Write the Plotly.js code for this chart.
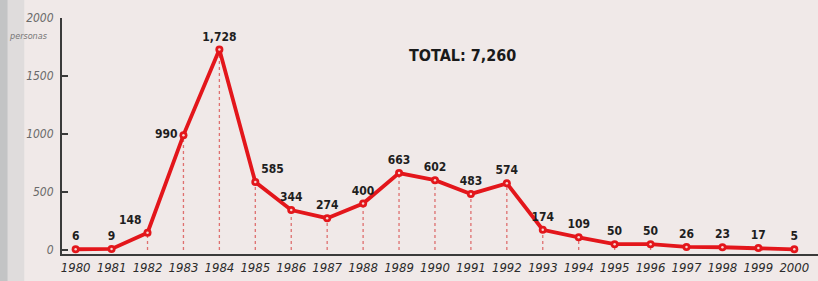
<!DOCTYPE html>
<html>
<head>
<meta charset="utf-8">
<script src="https://cdn.plot.ly/plotly-3.0.1.min.js"></script>
<style>
html,body{margin:0;padding:0;background:#f0e9e8;}
#chart{width:818px;height:281px;}
</style>
</head>
<body>
<div id="chart"></div>
<script>
const years = [1980,1981,1982,1983,1984,1985,1986,1987,1988,1989,1990,1991,1992,1993,1994,1995,1996,1997,1998,1999,2000];
const values = [6,9,148,990,1728,585,344,274,400,663,602,483,574,174,109,50,50,26,23,17,5];
const labelPositions = ['top center','top center','top left','middle left','top center','top right','top center','top center','top center','top center','top center','top center','top center','top center','top center','top center','top center','top center','top center','top center','top center'];
const yTicks = [0,500,1000,1500,2000];
const totalText = 'TOTAL: 7,260';
const unitText = 'personas';

const red = '#e3161b';
const narrow = '"Liberation Sans Narrow", "Arial Narrow", "DejaVu Sans Condensed", sans-serif';

const shapes = [
  {type:'rect', xref:'paper', yref:'paper', x0:-0.083, x1:-0.072, y0:-0.2, y1:1.1, fillcolor:'rgba(140,150,155,0.45)', line:{width:0}, layer:'below'},
  {type:'rect', xref:'paper', yref:'paper', x0:-0.072, x1:-0.05, y0:-0.2, y1:1.1, fillcolor:'rgba(170,185,185,0.25)', line:{width:0}, layer:'below'}
];
years.forEach((yr,i)=>{
  shapes.push({type:'line', xref:'x', yref:'y', x0:yr, x1:yr, y0:0, y1:values[i], line:{color:'rgba(215,60,60,0.7)', width:1.3, dash:'dot'}, layer:'below'});
});

const traces = [
  {
    x: years, y: values, type:'scatter', mode:'lines+markers+text',
    line:{color:red, width:3.8},
    marker:{color:red, size:8},
    text: values.map(v=>v.toLocaleString('en-US')),
    textposition: labelPositions,
    textfont:{family:narrow, size:12, color:'#1e1e1e', weight:'bold'},
    hoverinfo:'none', cliponaxis:false
  },
  {
    x: years, y: values, type:'scatter', mode:'markers',
    marker:{color:'#f6d6d2', size:2.5},
    hoverinfo:'none', cliponaxis:false
  }
];

const layout = {
  width:818, height:281,
  margin:{l:62, r:0, t:18, b:27},
  paper_bgcolor:'#f0e9e8',
  plot_bgcolor:'rgba(0,0,0,0)',
  showlegend:false,
  xaxis:{
    range:[1979.62, 2000.66],
    tickvals: years, ticktext: years.map(String),
    showgrid:false, zeroline:false,
    showline:true, linecolor:'#3a3a3a', linewidth:2,
    ticks:'', ticklen:0,
    tickfont:{family:narrow, size:13, color:'#2b2b2b', style:'italic'},
    fixedrange:true
  },
  yaxis:{
    range:[-35, 2000],
    tickvals: yTicks, ticktext: yTicks.map(String),
    showgrid:false, zeroline:false,
    showline:true, linecolor:'#3a3a3a', linewidth:2,
    ticks:'inside', ticklen:6, tickcolor:'#3a3a3a', tickwidth:1.5,
    tickfont:{family:narrow, size:12, color:'#6a6a6a', style:'italic'},
    ticklabelstandoff:4,
    fixedrange:true
  },
  shapes: shapes,
  annotations:[
    {xref:'paper', yref:'paper', x:0.53, y:0.89, text:totalText, showarrow:false,
     font:{family:narrow, size:16, color:'#1a1a1a', weight:'bold'}, xanchor:'center'},
    {xref:'paper', yref:'paper', x:-0.016, y:0.955, text:unitText, showarrow:false,
     font:{family:narrow, size:9, color:'#777', style:'italic'}, xanchor:'right'}
  ]
};

Plotly.newPlot('chart', traces, layout, {staticPlot:true, displayModeBar:false});
</script>
</body>
</html>
